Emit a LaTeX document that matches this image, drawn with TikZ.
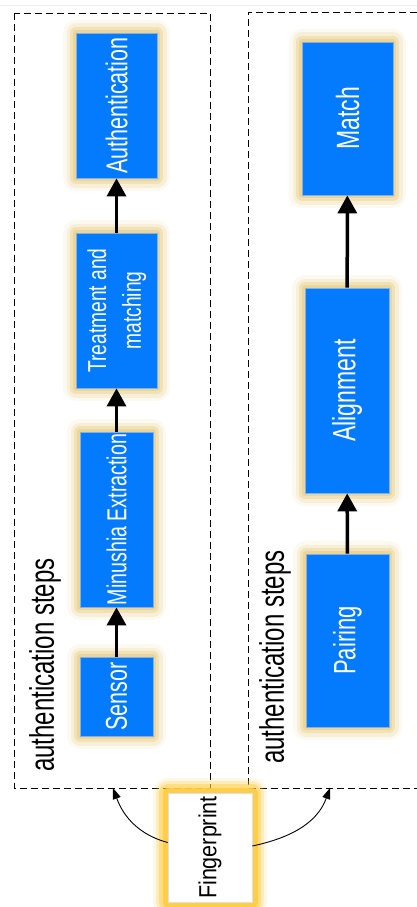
\documentclass[tikz,border=0pt]{standalone}
\usepackage{fontspec}
\setmainfont{Liberation Sans}
\usepackage{graphicx}
\usetikzlibrary{arrows.meta}

\definecolor{stepblue}{RGB}{4,122,252}
\definecolor{stepedge}{RGB}{130,175,230}
\definecolor{glowtan}{RGB}{232,206,132}
\definecolor{glowgold}{RGB}{255,204,60}

% upright text turned to read bottom-to-top, stretched across the line
\newcommand\uptext[3]{\rotatebox{90}{\scalebox{1}[#1]{\fontsize{#2}{1.35\dimexpr#2\relax}\selectfont #3}}}

\tikzset{
  softglow/.style={
    preaction={draw=#1, fill=none, line width=26pt, draw opacity=0.12, line join=round},
    preaction={draw=#1, fill=none, line width=19pt, draw opacity=0.22, line join=round},
    preaction={draw=#1, fill=none, line width=12pt, draw opacity=0.40, line join=round},
    preaction={draw=#1, fill=none, line width=6pt,  draw opacity=0.60, line join=round}},
  stepbox/.style={softglow=glowtan, rectangle, fill=stepblue, draw=stepedge,
    line width=0.8pt, inner sep=0pt, text=white},
  sourcebox/.style={rectangle, fill=white, draw=black!12, line width=0.6pt, inner sep=0pt,
    preaction={draw=glowgold, fill=none, line width=30pt, draw opacity=0.12, line join=round},
    preaction={draw=glowgold, fill=none, line width=24pt, draw opacity=0.25, line join=round},
    preaction={draw=glowgold, fill=none, line width=18pt, draw opacity=0.45, line join=round},
    preaction={draw=glowgold, fill=none, line width=11pt, draw opacity=0.85, line join=round}},
  groupline/.style={line width=0.9pt, dash pattern=on 7pt off 4pt},
  flow/.style={line width=3.5pt, -{Triangle[width=19pt,length=18pt]}},
  feed/.style={line width=0.9pt, -{Triangle[width=8pt,length=11pt]}},
}

\begin{document}
\begin{tikzpicture}[x=1pt, y=-1pt]
\useasboundingbox (0,0) rectangle (417,907);
\fill[white] (0,0) rectangle (417,907);
\draw[black!7, line width=0.8pt] (0,5) -- (417,5);

% the two groups of steps
\draw[groupline] (14,13) rectangle (210,788);
\draw[groupline] (417,12) -- (248,12) -- (248,788) -- (417,788);
\coordinate (ltip) at (113,788);
\coordinate (rtip) at (330,788);

\node (llabel) at (45,665) {\uptext{1.42}{24pt}{authentication steps}};
\node (rlabel) at (275,657) {\uptext{1.42}{24pt}{authentication steps}};

% first chain
\node[stepbox, minimum width=81pt, minimum height=145pt] (auth)  at (116.5,105.5) {\uptext{1.4}{21.5pt}{Authentication}};
\node[stepbox, minimum width=81pt, minimum height=155pt] (treat) at (116.5,310.5) {\uptext{1.35}{19.2pt}{\begin{tabular}{@{}c@{}}Treatment and\\matching\end{tabular}}};
\node[stepbox, minimum width=73pt, minimum height=175pt] (minu)  at (116.5,519.5) {\uptext{1.4}{19.6pt}{Minushia Extraction}};
\node[stepbox, minimum width=73pt, minimum height=79pt]  (sens)  at (116.5,696.5) {\uptext{1.4}{21.5pt}{Sensor}};

% second chain
\node[stepbox, minimum width=91pt, minimum height=153pt] (match) at (347.5,118.5) {\uptext{1.4}{23pt}{Match}};
\node[stepbox, minimum width=84pt, minimum height=205pt] (align) at (347,390.5)   {\uptext{1.4}{23pt}{Alignment}};
\node[stepbox, minimum width=83pt, minimum height=173pt] (pair)  at (347.5,640.5) {\uptext{1.4}{22pt}{Pairing}};

% input
\node[sourcebox, minimum width=84pt, minimum height=109pt] (finger) at (210,847.5) {\uptext{1.15}{21.5pt}{Fingerprint}};

\draw[flow] (sens)  -- (minu);
\draw[flow] (minu)  -- (treat);
\draw[flow] (treat) -- (auth);
\draw[flow] (pair)  -- (align);
\draw[flow] (align) -- (match);

\draw[feed] ([yshift=5pt]finger.west) to[out=165, in=-70] (ltip);
\draw[feed] ([yshift=1.5pt]finger.east) to[out=12, in=-110] (rtip);
\end{tikzpicture}
\end{document}
